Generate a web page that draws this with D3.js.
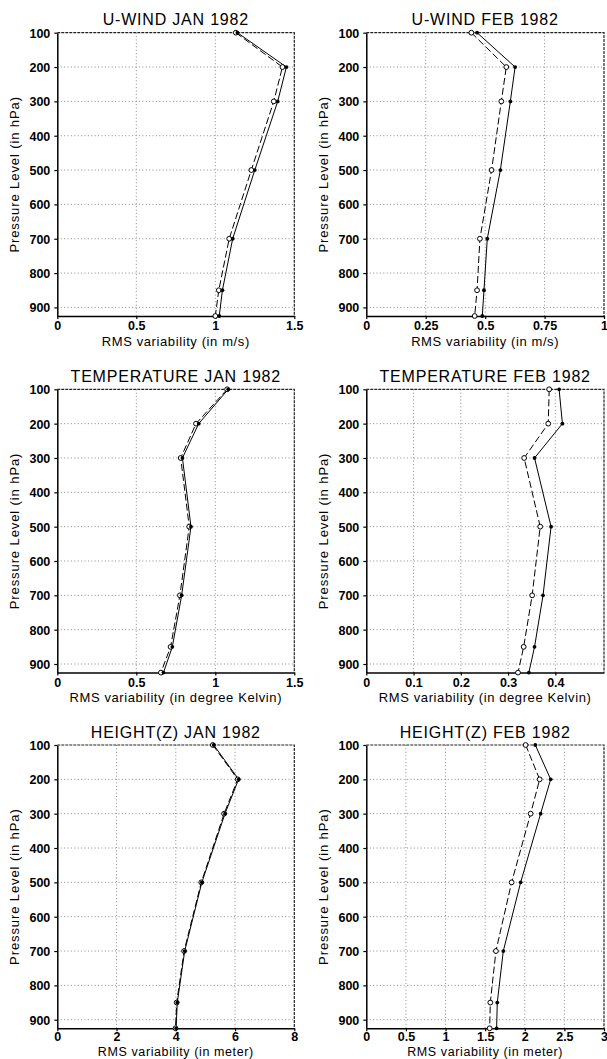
<!DOCTYPE html>
<html>
<head>
<meta charset="utf-8">
<script src="https://cdn.jsdelivr.net/npm/d3@7"></script>
<style>
  html, body { margin: 0; padding: 0; background: #fff; }
  svg { display: block; }
  text { font-family: "Liberation Sans", Arial, sans-serif; fill: #000; }
</style>
</head>
<body>
<svg id="chart" width="607" height="1059"></svg>
<script>
// Pressure levels (hPa) at which the RMS variability was computed
const levels = [100, 200, 300, 500, 700, 850, 925];
const yTicks = [100, 200, 300, 400, 500, 600, 700, 800, 900];

// U-wind (m/s)
const uJanSolid  = [1.14, 1.45, 1.395, 1.25, 1.11, 1.045, 1.025];
const uJanDashed = [1.13, 1.425, 1.37, 1.228, 1.088, 1.022, 1.0];
const uFebSolid  = [0.466, 0.626, 0.606, 0.564, 0.509, 0.495, 0.488];
const uFebDashed = [0.442, 0.589, 0.568, 0.527, 0.478, 0.466, 0.456];

// Temperature (K)
const tJanSolid  = [1.082, 0.895, 0.792, 0.846, 0.787, 0.728, 0.672];
const tJanDashed = [1.075, 0.878, 0.781, 0.835, 0.776, 0.717, 0.656];
const tFebSolid  = [0.408, 0.415, 0.356, 0.391, 0.374, 0.356, 0.344];
const tFebDashed = [0.387, 0.385, 0.334, 0.368, 0.351, 0.333, 0.321];

// Geopotential height (m)
const zJanSolid  = [5.28, 6.12, 5.66, 4.88, 4.30, 4.05, 4.01];
const zJanDashed = [5.25, 6.09, 5.63, 4.86, 4.28, 4.03, 3.99];
const zFebSolid  = [2.133, 2.327, 2.20, 1.948, 1.729, 1.653, 1.645];
const zFebDashed = [2.011, 2.188, 2.074, 1.834, 1.636, 1.565, 1.557];

// Axis ticks
const ticksU1 = [0, 0.5, 1, 1.5];
const ticksU2 = [0, 0.25, 0.5, 0.75, 1];
const ticksT1 = [0, 0.5, 1, 1.5];
const ticksT2 = [0, 0.1, 0.2, 0.3, 0.4];
const ticksZ1 = [0, 2, 4, 6, 8];
const ticksZ2 = [0, 0.5, 1, 1.5, 2, 2.5, 3];

const titles = ["U-WIND JAN 1982", "U-WIND FEB 1982",
                "TEMPERATURE JAN 1982", "TEMPERATURE FEB 1982",
                "HEIGHT(Z) JAN 1982", "HEIGHT(Z) FEB 1982"];
const xLabels = ["RMS variability (in m/s)", "RMS variability (in m/s)",
                 "RMS variability (in degree Kelvin)", "RMS variability (in degree Kelvin)",
                 "RMS variability (in meter)", "RMS variability (in meter)"];

const panels = [
  { title: titles[0], xlab: xLabels[0], xmax: 1.5,   ticks: ticksU1, solid: uJanSolid, dashed: uJanDashed },
  { title: titles[1], xlab: xLabels[1], xmax: 1,     ticks: ticksU2, solid: uFebSolid, dashed: uFebDashed },
  { title: titles[2], xlab: xLabels[2], xmax: 1.5,   ticks: ticksT1, solid: tJanSolid, dashed: tJanDashed },
  { title: titles[3], xlab: xLabels[3], xmax: 0.503, ticks: ticksT2, solid: tFebSolid, dashed: tFebDashed },
  { title: titles[4], xlab: xLabels[4], xmax: 8,     ticks: ticksZ1, solid: zJanSolid, dashed: zJanDashed },
  { title: titles[5], xlab: xLabels[5], xmax: 3,     ticks: ticksZ2, solid: zFebSolid, dashed: zFebDashed }
];

// Layout of the 3 x 2 grid
const cols = [{ x0: 57.3, x1: 294.3 }, { x0: 366.3, x1: 604 }];
const rows = [{ top: 32.7,  labOff: 29.5, tickPad: 2.5, labSize: 13 },
              { top: 389.3, labOff: 29.5, tickPad: 2.5, labSize: 13 },
              { top: 745,   labOff: 27.5, tickPad: 1,   labSize: 12.5 }];
const plotH = 283.3;

const svg = d3.select("#chart");
svg.append("rect").attr("width", 607).attr("height", 1059).attr("fill", "#fff");

const fmt = d => String(d);

panels.forEach((p, i) => {
  const c = cols[i % 2], r = rows[Math.floor(i / 2)];
  const x = d3.scaleLinear().domain([0, p.xmax]).range([c.x0, c.x1]);
  const y = d3.scaleLinear().domain([100, 925]).range([r.top, r.top + plotH]);
  const g = svg.append("g");

  // dotted grid
  const grid = g.append("g").attr("stroke", "#8a8a8a").attr("stroke-width", 1)
    .attr("stroke-dasharray", "1,2.4");
  grid.selectAll(".gx").data(p.ticks.filter(t => t > 0 && t < p.xmax)).join("line")
    .attr("x1", d => x(d)).attr("x2", d => x(d))
    .attr("y1", r.top).attr("y2", r.top + plotH);
  grid.selectAll(".gy").data(yTicks.filter(t => t > 100)).join("line")
    .attr("x1", c.x0).attr("x2", c.x1)
    .attr("y1", d => y(d)).attr("y2", d => y(d));

  // top and right frame
  g.append("path")
    .attr("d", `M${c.x0},${r.top}H${c.x1}V${r.top + plotH}`)
    .attr("fill", "none").attr("stroke", "#222").attr("stroke-width", 1.2)
    .attr("stroke-dasharray", "3,1");

  // axes
  const ax = g.append("g").attr("transform", `translate(0,${r.top + plotH})`)
    .call(d3.axisBottom(x).tickValues(p.ticks).tickFormat(fmt)
      .tickSize(3).tickSizeOuter(0).tickPadding(r.tickPad));
  const ay = g.append("g").attr("transform", `translate(${c.x0},0)`)
    .call(d3.axisLeft(y).tickValues(yTicks).tickFormat(fmt)
      .tickSize(3).tickSizeOuter(0).tickPadding(4));
  [ax, ay].forEach(a => {
    a.select(".domain").attr("stroke", "#000").attr("stroke-width", 1.5);
    a.selectAll(".tick line").attr("stroke", "#000").attr("stroke-width", 1.2);
    a.selectAll(".tick text").attr("font-size", 12.5).attr("font-weight", "bold")
      .attr("font-family", "'Liberation Sans', Arial, sans-serif").attr("fill", "#000");
  });
  ay.selectAll(".tick text").attr("dy", "0.36em");

  // profiles
  const line = d3.line().x(d => x(d[0])).y(d => y(d[1]));
  const dashedPts = p.dashed.map((v, k) => [v, levels[k]]);
  const solidPts = p.solid.map((v, k) => [v, levels[k]]);

  g.append("path").datum(dashedPts).attr("d", line)
    .attr("fill", "none").attr("stroke", "#000").attr("stroke-width", 1)
    .attr("stroke-dasharray", "7,3");
  g.append("path").datum(solidPts).attr("d", line)
    .attr("fill", "none").attr("stroke", "#000").attr("stroke-width", 1);

  g.selectAll(".od").data(dashedPts).join("circle")
    .attr("cx", d => x(d[0])).attr("cy", d => y(d[1])).attr("r", 2.4)
    .attr("fill", "#fff").attr("stroke", "#000").attr("stroke-width", 1);
  g.selectAll(".fd").data(solidPts).join("circle")
    .attr("cx", d => x(d[0])).attr("cy", d => y(d[1])).attr("r", 1.9)
    .attr("fill", "#000");

  // texts
  const cx = (c.x0 + c.x1) / 2;
  g.append("text").attr("x", cx).attr("y", r.top - 7.5)
    .attr("text-anchor", "middle").attr("font-size", 16).attr("letter-spacing", 0.8)
    .attr("fill", "#111")
    .text(p.title);
  g.append("text").attr("x", cx).attr("y", r.top + plotH + r.labOff)
    .attr("text-anchor", "middle").attr("font-size", r.labSize).attr("letter-spacing", 0.6)
    .text(p.xlab);
  const ly = r.top + plotH / 2;
  const lx = c.x0 - 38.5;
  g.append("text").attr("transform", `translate(${lx},${ly}) rotate(-90)`)
    .attr("text-anchor", "middle").attr("font-size", 13).attr("letter-spacing", 0.9)
    .text("Pressure Level (in hPa)");
});
</script>
</body>
</html>
